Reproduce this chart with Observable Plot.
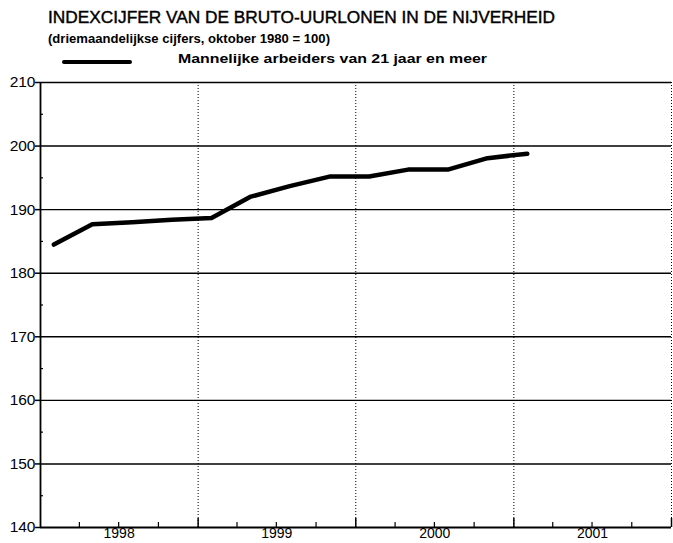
<!DOCTYPE html>
<html>
<head>
<meta charset="utf-8">
<script src="https://cdn.jsdelivr.net/npm/d3@7"></script>
<script src="https://cdn.jsdelivr.net/npm/@observablehq/plot@0.6"></script>
<style>
  html, body { margin: 0; padding: 0; background: #fff; }
  #wrap { position: relative; width: 673px; height: 543px; overflow: hidden; font-family: "Liberation Sans", Arial, sans-serif; color: #000; }
  .fit { position: absolute; white-space: nowrap; transform-origin: 0 0; }
  #title { left: 48px; top: 8px; font-size: 16.5px; -webkit-text-stroke: 0.4px #000; }
  #subtitle { left: 48px; top: 31px; font-size: 13.5px; font-weight: bold; }
  #swatch { position: absolute; left: 62px; top: 60px; width: 70px; height: 4px; background: #000; border-radius: 2px; }
  #legendlabel { left: 178px; top: 51px; font-size: 13.5px; font-weight: bold; }
  #chart { position: absolute; left: 0; top: 70px; }
</style>
</head>
<body>
<div id="wrap">
  <div id="title" class="fit" data-w="507">INDEXCIJFER VAN DE BRUTO-UURLONEN IN DE NIJVERHEID</div>
  <div id="subtitle" class="fit" data-w="282">(driemaandelijkse cijfers, oktober 1980 = 100)</div>
  <div id="swatch"></div>
  <div id="legendlabel" class="fit" data-w="309">Mannelijke arbeiders van 21 jaar en meer</div>
  <div id="chart"></div>
</div>
<script>
// Data (quarterly index figures)
const periods = ["1998-02-01","1998-05-01","1998-08-01","1998-11-01","1999-02-01","1999-05-01","1999-08-01","1999-11-01","2000-02-01","2000-05-01","2000-08-01","2000-11-01","2001-02-01"];
const values  = [184.5, 187.7, 188.0, 188.4, 188.7, 192.0, 193.7, 195.2, 195.2, 196.3, 196.3, 198.1, 198.8];

// Axis labels / ticks
const yTickValues = [140, 150, 160, 170, 180, 190, 200, 210];
const yMinorValues = [145, 155, 165, 175, 185, 195, 205];
const yGridValues = [150, 160, 170, 180, 190, 200, 210];
const yearLabels = [1998, 1999, 2000, 2001];
const yearBounds = ["1999-01-01", "2000-01-01", "2001-01-01", "2002-01-01"];
const quarterTicks = ["1998-04-01","1998-07-01","1998-10-01","1999-04-01","1999-07-01","1999-10-01","2000-04-01","2000-07-01","2000-10-01","2001-04-01","2001-07-01","2001-10-01"];
const xDomain = ["1998-01-01", "2002-01-01"];
const yDomain = [140, 210];

const parse = d3.utcParse("%Y-%m-%d");
const data = periods.map((p, i) => ({date: parse(p), value: values[i]}));

const W = 673, H = 473, mL = 40, mR = 2, mT = 12, mB = 16;
const plotH = H - mT - mB, plotW = W - mL - mR;

const chart = Plot.plot({
  width: W, height: H,
  marginLeft: mL, marginRight: mR, marginTop: mT, marginBottom: mB,
  style: {fontFamily: "'Liberation Sans', Arial, sans-serif", color: "#000", background: "#fff", overflow: "visible"},
  x: {type: "utc", domain: xDomain.map(parse)},
  y: {domain: yDomain},
  marks: [
    Plot.ruleY(yGridValues, {stroke: "#000", strokeWidth: 1.4}),
    Plot.ruleX(yearBounds.map(parse), {stroke: "#000", strokeWidth: 1, strokeDasharray: "1,2"}),
    Plot.ruleX(quarterTicks.map(parse), {stroke: "#000", strokeWidth: 1.2, insetTop: plotH - 5}),
    Plot.ruleX(yearBounds.map(parse), {stroke: "#000", strokeWidth: 1.5, insetTop: plotH - 9}),
    Plot.ruleY(yMinorValues, {stroke: "#000", strokeWidth: 1.2, insetRight: plotW - 3}),
    Plot.ruleX([parse(xDomain[0])], {stroke: "#000", strokeWidth: 1.8}),
    Plot.ruleY([yDomain[0]], {stroke: "#000", strokeWidth: 2.2}),
    Plot.axisY({ticks: yTickValues, tickSize: 5, tickPadding: 0, fontSize: 15.5, label: null, tickFormat: d => String(d), strokeWidth: 1.5, stroke: "#000"}),
    Plot.axisX({ticks: yearLabels.map(y => new Date(Date.UTC(y, 6, 2))), tickSize: 0, tickPadding: 1, fontSize: 14, label: null, tickFormat: d => String(d.getUTCFullYear())}),
    Plot.line(data, {x: "date", y: "value", stroke: "#000", strokeWidth: 4.5, strokeLinejoin: "round", strokeLinecap: "round"})
  ]
});
document.getElementById("chart").appendChild(chart);

// stretch header texts horizontally to the widths seen in the reference
document.querySelectorAll(".fit").forEach(el => {
  const target = +el.dataset.w;
  const w = el.getBoundingClientRect().width;
  if (w > 0) el.style.transform = `scaleX(${target / w})`;
});
</script>
</body>
</html>
